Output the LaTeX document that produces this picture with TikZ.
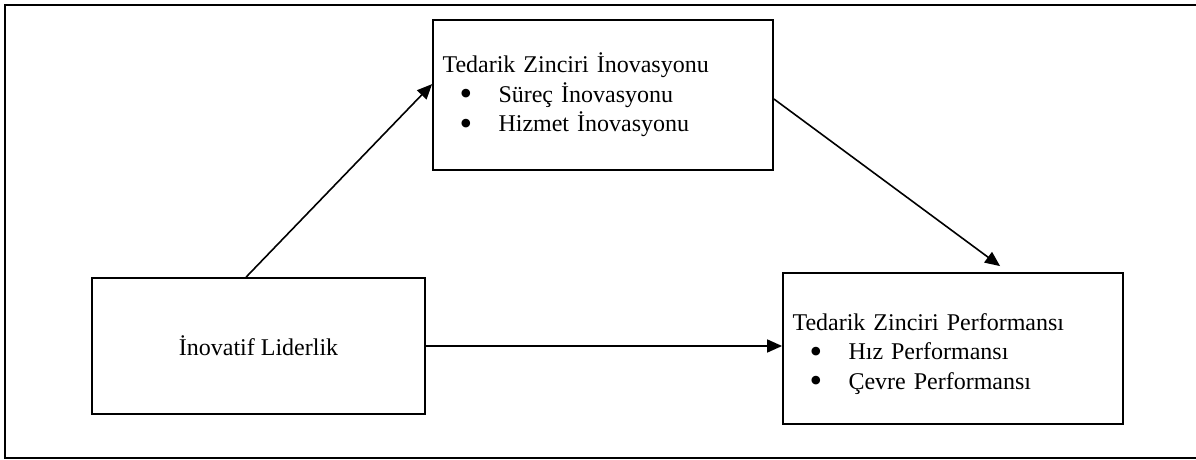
\documentclass[tikz,border=0pt]{standalone}
\usepackage{fontspec}
\setmainfont{Liberation Serif}
\usetikzlibrary{arrows.meta, positioning}

\newcommand{\bitem}[1]{\\\hspace*{8.5pt}\makebox[19.5pt][l]{\smash{\raisebox{-1.6pt}{\fontsize{18}{14.75}\selectfont\textbullet}}}#1}

\begin{document}
\begin{tikzpicture}[x=0.5pt,y=-0.5pt,
    font=\fontsize{12}{14.75}\selectfont,
    box/.style={draw,line width=0.9pt,inner sep=0pt},
    listbox/.style={box,inner xsep=4.75pt,minimum width=170pt,text width=160.5pt,align=left},
    arr/.style={-{Triangle[length=7.5pt,width=6.5pt]},line width=0.8pt}]
    \useasboundingbox (0,0) rectangle (1196,460);
    \draw[line width=1pt] (1196,5) -- (5,5) -- (5,458) -- (1196,458);
    \node[box,minimum width=166.5pt,minimum height=68pt,align=center](lead) at (258.5,346){İnovatif Liderlik};
    \node[listbox,minimum height=75pt](inno) at (603,95){Tedarik Zinciri İnovasyonu\bitem{Süreç İnovasyonu}\bitem{Hizmet İnovasyonu}};
    \node[listbox,minimum height=75.5pt](perf) at (953,348.5){\rule{0pt}{14pt}Tedarik Zinciri Performansı\bitem{Hız Performansı}\bitem{Çevre Performansı}};
    \draw[arr]([xshift=77.5pt]lead.north west)--([yshift=-32.5pt]inno.north west);
    \draw[arr]([yshift=-2pt]inno.east)--([xshift=109pt,yshift=3pt]perf.north west);
    \draw[arr](lead.east)--(lead.east -| perf.west);
  \end{tikzpicture}
\end{document}
